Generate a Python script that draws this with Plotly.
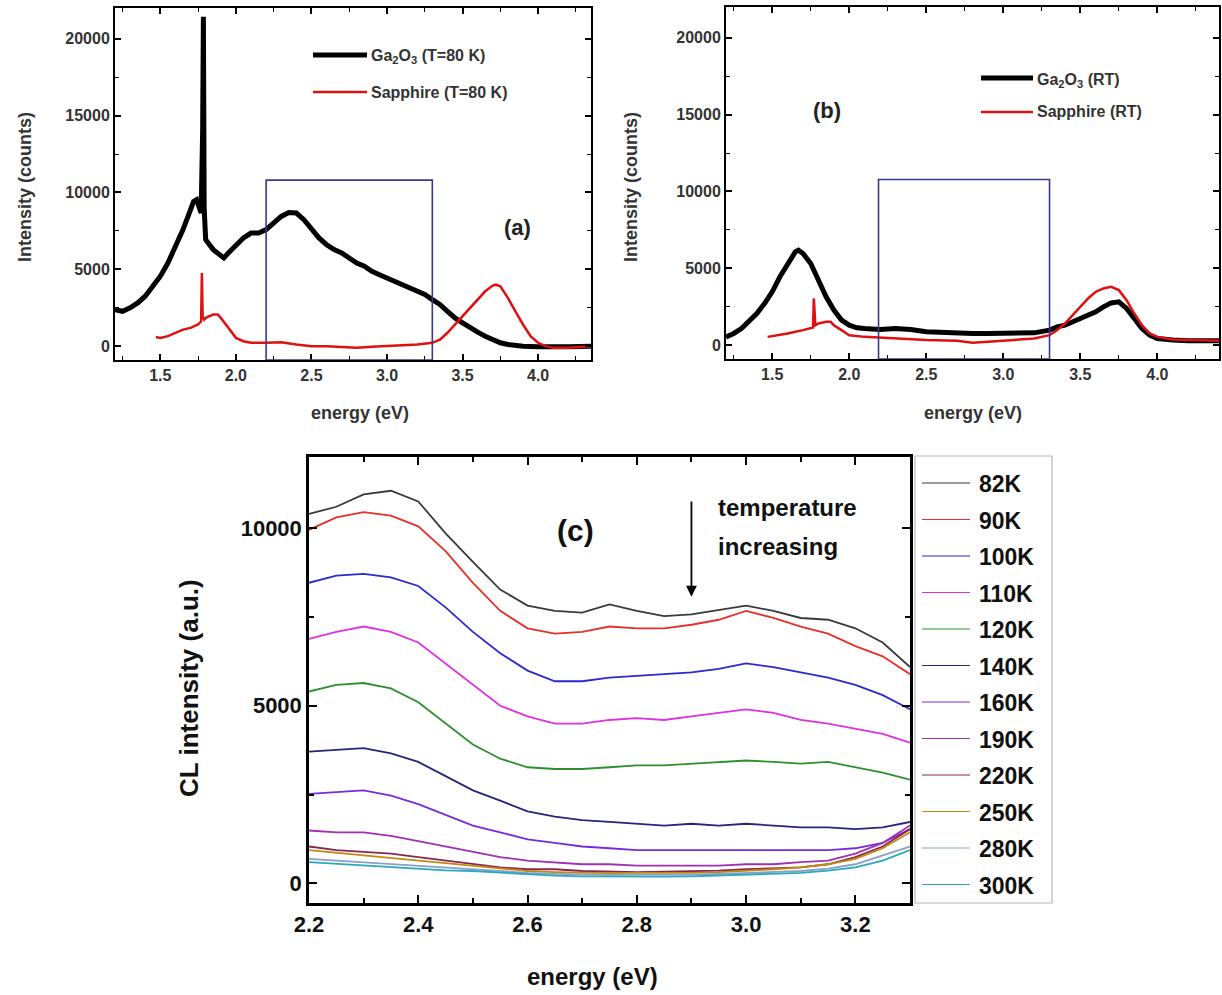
import plotly.graph_objects as go

W, H = 1222, 995

# ---------------- Panel (a): T = 80 K ----------------
a_ga_E = [1.2, 1.25, 1.3, 1.35, 1.4, 1.45, 1.5, 1.55, 1.6, 1.65, 1.7, 1.72, 1.74, 1.76, 1.77, 1.78, 1.785, 1.79,
          1.8, 1.85, 1.9, 1.92, 1.95, 2.0, 2.05, 2.1, 2.15, 2.2, 2.25, 2.3, 2.35, 2.4, 2.45, 2.5, 2.55, 2.6,
          2.65, 2.7, 2.75, 2.8, 2.85, 2.9, 2.95, 3.0, 3.05, 3.1, 3.15, 3.2, 3.25, 3.3, 3.35, 3.4, 3.45, 3.5,
          3.55, 3.6, 3.65, 3.7, 3.75, 3.8, 3.85, 3.9, 4.0, 4.1, 4.2, 4.35]
a_ga_I = [2380, 2270, 2490, 2810, 3250, 3900, 4550, 5410, 6500, 7580, 8880, 9420, 9530, 9000, 8660, 14000, 21430, 9000,
          6930, 6280, 5850, 5740, 6060, 6600, 7040, 7360, 7360, 7580, 8010, 8440, 8700, 8660, 8230, 7580, 7040, 6600,
          6280, 6060, 5740, 5410, 5200, 4870, 4650, 4440, 4220, 4000, 3790, 3570, 3360, 3030, 2710, 2270, 1840, 1520,
          1190, 910, 650, 390, 220, 110, 40, 0, -40, -60, -40, 0]

a_sa_E = [1.47, 1.5, 1.55, 1.6, 1.65, 1.7, 1.75, 1.77, 1.775, 1.78, 1.79, 1.8, 1.85, 1.88, 1.9, 1.95, 2.0, 2.05,
          2.1, 2.2, 2.3, 2.4, 2.5, 2.6, 2.7, 2.8, 2.9, 3.0, 3.1, 3.2, 3.3, 3.35, 3.4, 3.45, 3.5, 3.55, 3.6, 3.65,
          3.7, 3.72, 3.75, 3.8, 3.85, 3.9, 3.95, 4.0, 4.05, 4.1, 4.2, 4.35]
a_sa_I = [600, 540, 650, 870, 1080, 1190, 1410, 1620, 4760, 1900, 1730, 1840, 2060, 2060, 1840, 1190, 540, 320,
          220, 220, 260, 110, 0, 0, -40, -110, -40, 0, 40, 110, 220, 430, 870, 1410, 1950, 2490, 3030, 3570,
          3940, 4000, 3900, 3140, 2270, 1410, 650, 220, 0, -110, -110, 0]

# ---------------- Panel (b): room temperature ----------------
b_ga_E = [1.2, 1.25, 1.3, 1.35, 1.4, 1.45, 1.5, 1.55, 1.6, 1.65, 1.67, 1.7, 1.75, 1.8, 1.85, 1.9, 1.95, 2.0,
          2.05, 2.1, 2.2, 2.3, 2.4, 2.5, 2.6, 2.7, 2.8, 2.9, 3.0, 3.1, 3.2, 3.3, 3.35, 3.4, 3.45, 3.5, 3.55,
          3.6, 3.65, 3.7, 3.75, 3.8, 3.85, 3.9, 3.95, 4.0, 4.1, 4.2, 4.4]
b_ga_I = [540, 760, 1080, 1520, 2060, 2710, 3470, 4450, 5310, 6070, 6180, 5960, 5310, 4230, 3150, 2280, 1630, 1300,
          1130, 1080, 1020, 1080, 1020, 870, 820, 760, 760, 760, 760, 760, 800, 980, 1190, 1300, 1520, 1740, 1950,
          2170, 2490, 2750, 2820, 2390, 1740, 1080, 650, 430, 330, 280, 280]

b_sa_E = [1.47, 1.5, 1.6, 1.7, 1.75, 1.765, 1.77, 1.78, 1.8, 1.85, 1.88, 1.9, 1.95, 2.0, 2.1, 2.2, 2.3, 2.5,
          2.7, 2.8, 2.9, 3.0, 3.1, 3.2, 3.3, 3.35, 3.4, 3.45, 3.5, 3.55, 3.6, 3.65, 3.7, 3.75, 3.8, 3.85,
          3.9, 3.95, 4.0, 4.1, 4.2, 4.4]
b_sa_I = [540, 590, 760, 980, 1080, 1150, 3040, 1300, 1410, 1520, 1520, 1300, 980, 650, 540, 480, 430, 330,
          280, 150, 220, 280, 330, 430, 650, 980, 1410, 1950, 2490, 3040, 3470, 3690, 3800, 3580, 2930, 2060,
          1300, 760, 540, 370, 330, 280]

# ---------------- Panel (c): temperature series ----------------
c_E = [2.2, 2.25, 2.3, 2.35, 2.4, 2.45, 2.5, 2.55, 2.6, 2.65, 2.7, 2.75, 2.8, 2.85, 2.9, 2.95, 3.0, 3.05,
       3.1, 3.15, 3.2, 3.25, 3.3]
c_labels = ["82K", "90K", "100K", "110K", "120K", "140K", "160K", "190K", "220K", "250K", "280K", "300K"]
c_82 = [10400, 10600, 10950, 11050, 10750, 9850, 9050, 8270, 7820, 7670, 7620, 7850, 7670, 7520, 7570, 7690,
        7820, 7670, 7470, 7420, 7180, 6780, 6090]
c_90 = [9950, 10300, 10450, 10350, 10050, 9350, 8460, 7670, 7180, 7030, 7080, 7230, 7180, 7180, 7280, 7420,
        7670, 7470, 7230, 7030, 6680, 6390, 5890]
c_100 = [8460, 8660, 8710, 8610, 8370, 7770, 7080, 6480, 5990, 5690, 5690, 5790, 5840, 5890, 5940, 6040,
         6190, 6090, 5940, 5790, 5590, 5300, 4900]
c_110 = [6880, 7080, 7230, 7080, 6780, 6190, 5590, 5000, 4700, 4500, 4500, 4600, 4650, 4600, 4700, 4800,
         4900, 4800, 4600, 4500, 4360, 4210, 3960]
c_120 = [5400, 5590, 5640, 5490, 5100, 4500, 3910, 3510, 3270, 3220, 3220, 3270, 3320, 3320, 3370, 3420,
         3460, 3420, 3370, 3420, 3270, 3120, 2920]
c_140 = [3710, 3760, 3810, 3660, 3420, 3020, 2620, 2330, 2030, 1880, 1780, 1730, 1680, 1630, 1680, 1630,
         1680, 1630, 1580, 1580, 1530, 1580, 1730]
c_160 = [2520, 2570, 2620, 2470, 2230, 1930, 1630, 1440, 1240, 1140, 1040, 990, 940, 940, 940, 940,
         940, 940, 940, 940, 990, 1140, 1530]
c_190 = [1490, 1440, 1440, 1340, 1190, 1040, 890, 740, 640, 600, 540, 540, 500, 500, 500, 500,
         540, 540, 600, 640, 840, 1140, 1630]
c_220 = [1040, 940, 890, 840, 740, 640, 540, 450, 400, 400, 350, 330, 320, 330, 340, 360,
         400, 420, 450, 540, 740, 1040, 1530]
c_250 = [940, 860, 790, 720, 640, 570, 500, 420, 350, 320, 300, 290, 300, 290, 300, 320,
         350, 400, 450, 540, 690, 990, 1440]
c_280 = [690, 640, 600, 550, 500, 450, 400, 350, 300, 270, 250, 240, 250, 240, 250, 270,
         300, 320, 350, 420, 540, 790, 1040]
c_300 = [600, 550, 500, 450, 400, 370, 350, 300, 250, 220, 200, 190, 200, 190, 200, 220,
         250, 270, 300, 360, 450, 640, 940]
c_series = [c_82, c_90, c_100, c_110, c_120, c_140, c_160, c_190, c_220, c_250, c_280, c_300]
c_colors = ["#3a3a3a", "#e8302a", "#2a2ad0", "#e030e0", "#2f8f2f", "#26267a", "#7a2ad8", "#a030b0",
            "#8a2550", "#c08a10", "#8aa0c8", "#2aa8c0"]


def px(x):
    return x / W


def py(y):
    return 1 - y / H


fig = go.Figure()

fig.add_trace(go.Scatter(x=a_ga_E, y=a_ga_I, mode="lines", line=dict(color="black", width=5),
                         xaxis="x", yaxis="y", showlegend=False))
fig.add_trace(go.Scatter(x=a_sa_E, y=a_sa_I, mode="lines", line=dict(color="#e01010", width=2.5),
                         xaxis="x", yaxis="y", showlegend=False))
fig.add_trace(go.Scatter(x=b_ga_E, y=b_ga_I, mode="lines", line=dict(color="black", width=5),
                         xaxis="x2", yaxis="y2", showlegend=False))
fig.add_trace(go.Scatter(x=b_sa_E, y=b_sa_I, mode="lines", line=dict(color="#e01010", width=2.5),
                         xaxis="x2", yaxis="y2", showlegend=False))
for lab, ser, col in zip(c_labels, c_series, c_colors):
    fig.add_trace(go.Scatter(x=c_E, y=ser, mode="lines", name=lab, line=dict(color=col, width=1.8),
                             xaxis="x3", yaxis="y3", showlegend=False))

FONT = "Liberation Sans"
axis_ab = dict(showline=True, linecolor="black", linewidth=2, mirror="allticks", ticks="inside",
               ticklen=6, tickwidth=1.5, tickcolor="black", showgrid=False, zeroline=False,
               tickfont=dict(family=FONT, size=16, color="#333333", weight="bold"))
minor_ab = dict(ticks="inside", ticklen=4, tickwidth=1.2, tickcolor="black", showgrid=False)

fig.update_layout(
    width=W, height=H, margin=dict(l=0, r=0, t=0, b=0, autoexpand=False),
    paper_bgcolor="white", plot_bgcolor="white",
    xaxis=dict(domain=[px(115), px(591)], range=[1.2, 4.35], tick0=0, dtick=0.5, tickformat=".1f",
               anchor="y", minor=dict(dtick=0.25, **minor_ab), **axis_ab),
    yaxis=dict(domain=[py(360), py(8)], range=[-900, 22000], tick0=0, dtick=5000, tickformat="d",
               anchor="x", minor=dict(dtick=2500, **minor_ab), **axis_ab),
    xaxis2=dict(domain=[px(726), px(1219)], range=[1.2, 4.4], tick0=0, dtick=0.5, tickformat=".1f",
                anchor="y2", minor=dict(dtick=0.25, **minor_ab), **axis_ab),
    yaxis2=dict(domain=[py(359), py(7)], range=[-900, 22000], tick0=0, dtick=5000, tickformat="d",
                anchor="x2", minor=dict(dtick=2500, **minor_ab), **axis_ab),
    xaxis3=dict(domain=[px(309), px(910)], range=[2.2, 3.3], tick0=0, dtick=0.2, tickformat=".1f",
                anchor="y3", showline=True, linecolor="black", linewidth=2.5, mirror="allticks",
                ticks="inside", ticklen=8, tickwidth=2, tickcolor="black", showgrid=False, zeroline=False,
                tickfont=dict(family=FONT, size=22, color="#111111", weight="bold"),
                minor=dict(dtick=0.1, ticks="inside", ticklen=5, tickwidth=1.5, tickcolor="black", showgrid=False)),
    yaxis3=dict(domain=[py(903), py(457)], range=[-550, 12000], tick0=0, dtick=5000, tickformat="d",
                anchor="x3", showline=True, linecolor="black", linewidth=2.5, mirror="allticks",
                ticks="inside", ticklen=8, tickwidth=2, tickcolor="black", showgrid=False, zeroline=False,
                tickfont=dict(family=FONT, size=22, color="#111111", weight="bold"),
                minor=dict(dtick=2500, ticks="inside", ticklen=5, tickwidth=1.5, tickcolor="black", showgrid=False)),
)

shapes = []
# highlighted windows in (a) and (b)
shapes.append(dict(type="rect", xref="x", yref="y", x0=2.2, x1=3.3, y0=-900, y1=10800,
                   line=dict(color="#3a3a8a", width=1.6)))
shapes.append(dict(type="rect", xref="x2", yref="y2", x0=2.19, x1=3.3, y0=-900, y1=10780,
                   line=dict(color="#3a3a8a", width=1.6)))

annotations = []


def txt(x, y, text, size, color="#222222", xanchor="center", yanchor="middle", angle=0):
    annotations.append(dict(x=px(x), y=py(y), xref="paper", yref="paper", text=text, showarrow=False,
                            xanchor=xanchor, yanchor=yanchor, textangle=angle,
                            font=dict(family=FONT, size=size, color=color, weight="bold")))


# legend (a)
shapes.append(dict(type="line", xref="paper", yref="paper", x0=px(313), x1=px(367), y0=py(55), y1=py(55),
                   line=dict(color="black", width=5)))
shapes.append(dict(type="line", xref="paper", yref="paper", x0=px(313), x1=px(367), y0=py(92), y1=py(92),
                   line=dict(color="#e01010", width=2.5)))
txt(369, 57, "Ga<sub>2</sub>O<sub>3</sub> (T=80 K)", 16, "#333333", "left")
txt(369, 92, "Sapphire (T=80 K)", 16, "#333333", "left")
# legend (b)
shapes.append(dict(type="line", xref="paper", yref="paper", x0=px(981), x1=px(1033), y0=py(78), y1=py(78),
                   line=dict(color="black", width=5)))
shapes.append(dict(type="line", xref="paper", yref="paper", x0=px(981), x1=px(1033), y0=py(112), y1=py(112),
                   line=dict(color="#e01010", width=2.5)))
txt(1035, 80, "Ga<sub>2</sub>O<sub>3</sub> (RT)", 16, "#333333", "left")
txt(1035, 112, "Sapphire (RT)", 16, "#333333", "left")

# panel labels
txt(517, 227, "(a)", 22, "#222222")
txt(827, 110, "(b)", 22, "#222222")
txt(575, 530, "(c)", 30, "#111111")
txt(716, 507, "temperature", 24, "#111111", "left")
txt(716, 546, "increasing", 24, "#111111", "left")

# axis titles
txt(360, 413, "energy (eV)", 18, "#333333")
txt(25, 187, "Intensity (counts)", 18, "#333333", angle=-90)
txt(973, 413, "energy (eV)", 18, "#333333")
txt(631, 187, "Intensity (counts)", 18, "#333333", angle=-90)
txt(592, 976, "energy (eV)", 24, "#111111")
txt(189, 688, "CL intensity (a.u.)", 26, "#111111", angle=-90)

# arrow in (c)
annotations.append(dict(x=2.9, y=8070, xref="x3", yref="y3", ax=2.9, ay=10790, axref="x3", ayref="y3",
                        showarrow=True, arrowhead=2, arrowsize=1.2, arrowwidth=1.8, arrowcolor="black", text=""))

# legend (c)
shapes.append(dict(type="rect", xref="paper", yref="paper", x0=px(915), x1=px(1052), y0=py(903), y1=py(456),
                   line=dict(color="#b8b8b8", width=1.2)))
for i, (lab, col) in enumerate(zip(c_labels, c_colors)):
    yy = 483 + i * 36.5
    shapes.append(dict(type="line", xref="paper", yref="paper", x0=px(922), x1=px(970), y0=py(yy), y1=py(yy),
                       line=dict(color=col, width=1.2)))
    txt(977, yy + 1, lab, 23, "#111111", "left")

fig.update_layout(shapes=shapes, annotations=annotations)
fig.write_html("out.html", config={"displayModeBar": False},
               post_script="document.body.style.margin='0';document.body.style.overflow='hidden';")
